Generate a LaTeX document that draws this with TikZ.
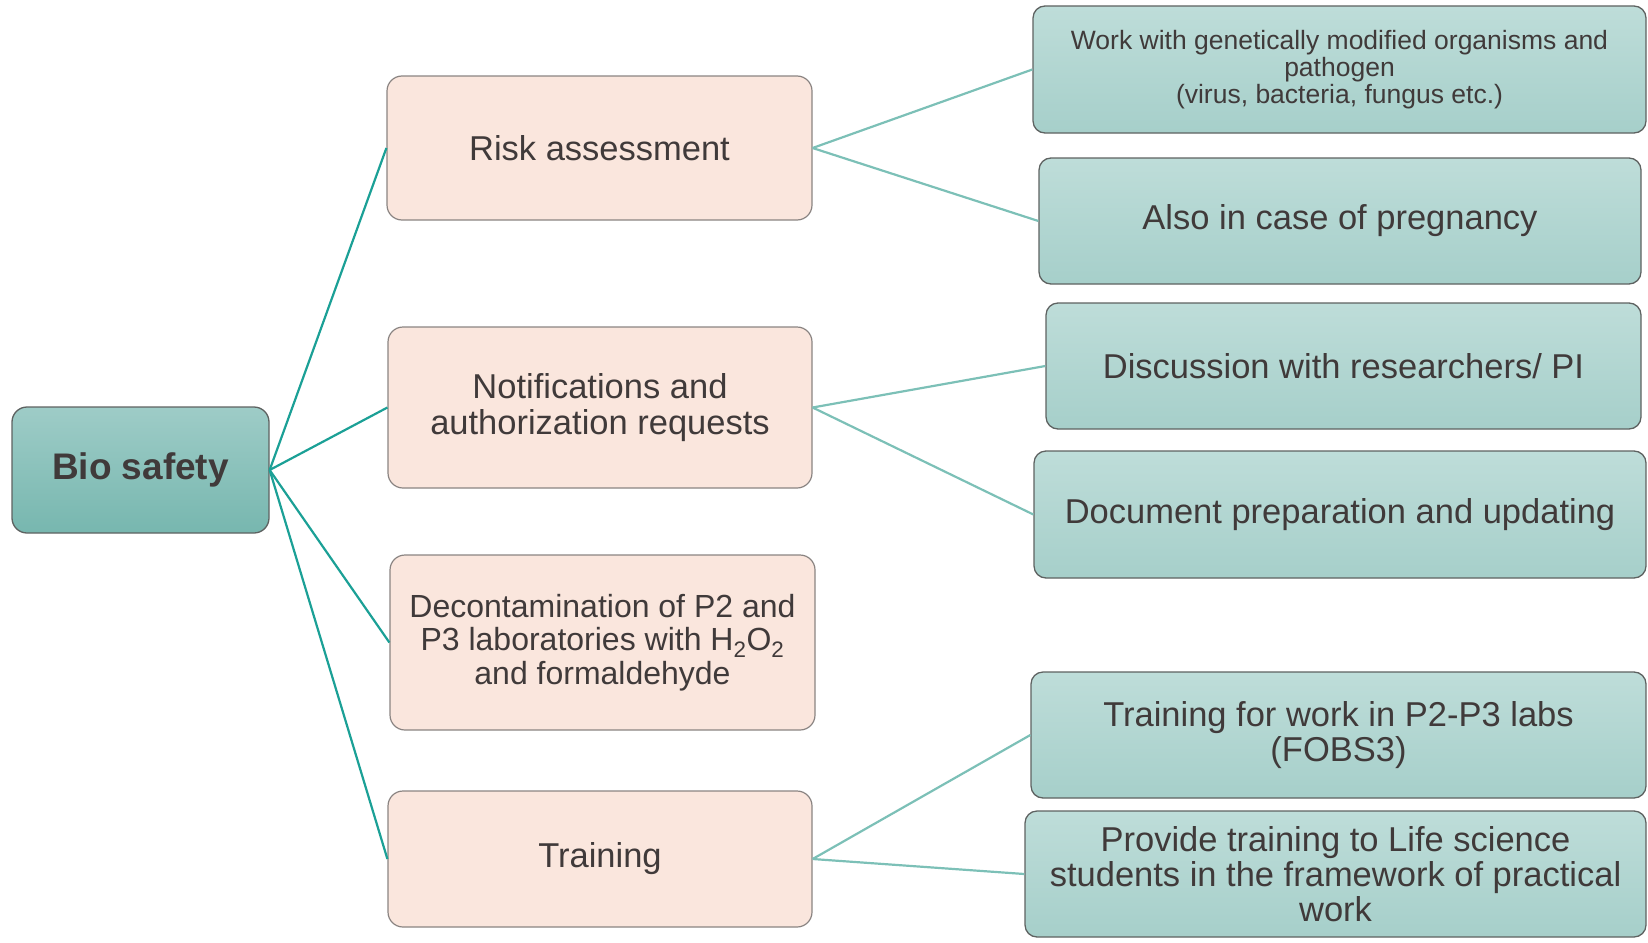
\documentclass[tikz,border=0pt]{standalone}
\usepackage{fontspec}
\setmainfont{Liberation Sans}
\begin{document}
\definecolor{txt}{HTML}{403A3A}
\definecolor{pinkfill}{HTML}{FAE6DD}
\definecolor{pinkdraw}{HTML}{8A8482}
\definecolor{tealtop}{HTML}{BEDDD9}
\definecolor{tealbot}{HTML}{A6CFCA}
\definecolor{roottop}{HTML}{9ECCC7}
\definecolor{rootbot}{HTML}{77B7AF}
\definecolor{tealdraw}{HTML}{5E6261}
\definecolor{linedark}{HTML}{1BA096}
\definecolor{linelight}{HTML}{7CC0B7}
\begin{tikzpicture}[x=1pt,y=-1pt,
  rootbox/.style={draw=tealdraw, line width=1.3pt, rounded corners=15pt, top color=roottop, bottom color=rootbot, text=txt, inner sep=0pt, align=center},
  pinkbox/.style={draw=pinkdraw, line width=1.2pt, fill=pinkfill, rounded corners=15pt, text=txt, inner sep=0pt, align=center},
  tealbox/.style={draw=tealdraw, line width=1.3pt, rounded corners=12pt, top color=tealtop, bottom color=tealbot, text=txt, inner sep=0pt, align=center},
  bigtext/.style={font=\fontsize{34.5}{36.8}\selectfont},
  tighttext/.style={font=\fontsize{34.5}{34.7}\selectfont},
  darkline/.style={draw=linedark, line width=2.2pt},
  lightline/.style={draw=linelight, line width=2.2pt}]
\useasboundingbox (0,0) rectangle (1648,942);
% root
\node[rootbox, minimum width=257pt, minimum height=126pt, font=\fontsize{37}{40}\selectfont\bfseries] (root) at (140.5,470)
  {Bio safety};
% middle
\node[pinkbox, bigtext, minimum width=425pt, minimum height=144pt] (risk) at (599.5,148)
  {Risk assessment};
\node[pinkbox, bigtext, minimum width=424pt, minimum height=161pt] (notif) at (600,407.5)
  {Notifications and\\authorization requests};
\node[pinkbox, minimum width=425pt, minimum height=175pt, font=\fontsize{32}{33.6}\selectfont] (decon) at (602.5,642.5)
  {Decontamination of P2 and\\P3 laboratories with H\textsubscript{2}O\textsubscript{2}\\and formaldehyde};
\node[pinkbox, bigtext, minimum width=424pt, minimum height=136pt] (train) at (600,859)
  {Training};
% right
\node[tealbox, minimum width=613pt, minimum height=127pt, font=\fontsize{26.5}{27.3}\selectfont] (work) at (1339.5,69.5)
  {Work with genetically modified organisms and\\pathogen\\(virus, bacteria, fungus etc.)};
\node[tealbox, bigtext, minimum width=602pt, minimum height=126pt] (also) at (1340,221)
  {Also in case of pregnancy};
\node[tealbox, bigtext, minimum width=595pt, minimum height=126pt] (disc) at (1343.5,366)
  {Discussion with researchers/ PI};
\node[tealbox, bigtext, minimum width=612pt, minimum height=127pt] (doc) at (1340,514.5)
  {Document preparation and updating};
\node[tealbox, tighttext, minimum width=615pt, minimum height=126pt] (tfw) at (1338.5,735)
  {Training for work in P2-P3 labs\\(FOBS3)};
\node[tealbox, tighttext, minimum width=621pt, minimum height=126pt] (prov) at (1335.5,874)
  {Provide training to Life science\\students in the framework of practical\\work};
% connectors
\draw[darkline] (root.east) -- (risk.west);
\draw[darkline] (root.east) -- (notif.west);
\draw[darkline] (root.east) -- (decon.west);
\draw[darkline] (root.east) -- (train.west);
\draw[lightline] (risk.east) -- (work.west);
\draw[lightline] (risk.east) -- (also.west);
\draw[lightline] (notif.east) -- (disc.west);
\draw[lightline] (notif.east) -- (doc.west);
\draw[lightline] (train.east) -- (tfw.west);
\draw[lightline] (train.east) -- (prov.west);
\end{tikzpicture}
\end{document}
